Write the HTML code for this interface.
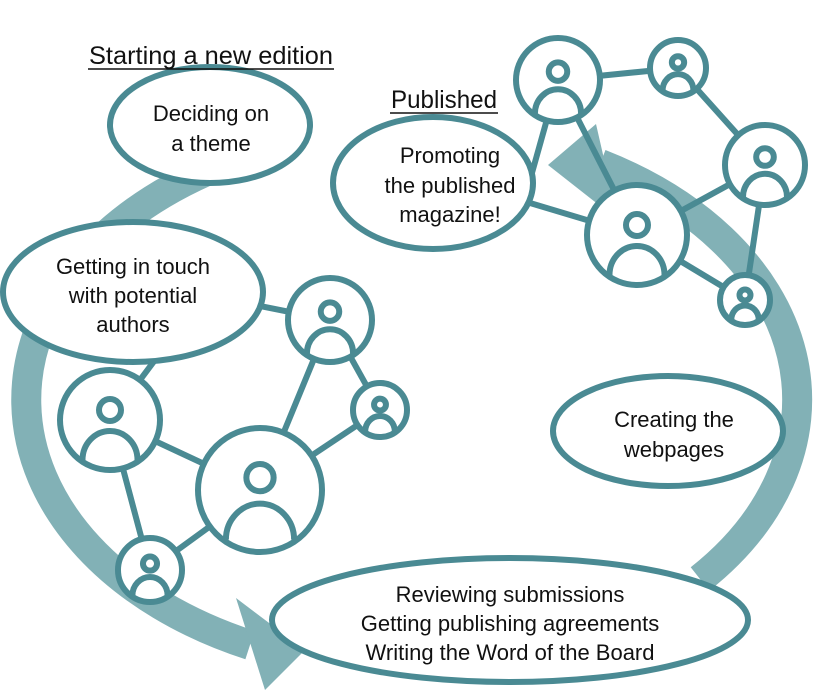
<!DOCTYPE html>
<html><head><meta charset="utf-8"><style>
html,body{margin:0;padding:0;background:#fff;}
svg{display:block;}
text{font-family:"Liberation Sans",sans-serif;fill:#111;}
</style></head><body>
<svg width="840" height="690" viewBox="0 0 840 690" xmlns="http://www.w3.org/2000/svg">
<defs>
<g id="p">
<circle cx="0" cy="0" r="1" fill="#fff" stroke="#4a8a93" stroke-width="6" vector-effect="non-scaling-stroke"/>
<circle cx="0" cy="-0.2" r="0.22" fill="none" stroke="#4a8a93" stroke-width="6" vector-effect="non-scaling-stroke"/>
<path d="M-0.55,0.8 A0.55,0.58 0 0 1 0.55,0.8" fill="none" stroke="#4a8a93" stroke-width="6" vector-effect="non-scaling-stroke"/>
</g>
</defs>
<!-- ring -->
<g fill="none" stroke="#82b1b6" stroke-width="30">
<path d="M240,158 A385,270 0 0 0 250,645"/>
<path d="M700,579 A385,270 0 0 0 600,164"/>
</g>
<polygon points="236,598 305,650 265,690" fill="#82b1b6"/>
<polygon points="596,124 618,220 548,165" fill="#82b1b6"/>
<!-- edges -->
<g stroke="#4a8a93" stroke-width="6">
<line x1="558" y1="80" x2="678" y2="68"/>
<line x1="678" y1="68" x2="765" y2="165"/>
<line x1="765" y1="165" x2="637" y2="235"/>
<line x1="765" y1="165" x2="745" y2="300"/>
<line x1="637" y1="235" x2="745" y2="300"/>
<line x1="558" y1="80" x2="637" y2="235"/>
<line x1="558" y1="80" x2="530" y2="180"/>
<line x1="520" y1="200" x2="637" y2="235"/>
<line x1="230" y1="300" x2="330" y2="320"/>
<line x1="170" y1="340" x2="110" y2="420"/>
<line x1="330" y1="320" x2="380" y2="410"/>
<line x1="330" y1="320" x2="260" y2="490"/>
<line x1="260" y1="490" x2="380" y2="410"/>
<line x1="110" y1="420" x2="260" y2="490"/>
<line x1="110" y1="420" x2="150" y2="570"/>
<line x1="260" y1="490" x2="150" y2="570"/>
</g>
<!-- ellipses -->
<g fill="#fff" stroke="#4a8a93" stroke-width="6">
<ellipse cx="210" cy="125" rx="100" ry="58"/>
<ellipse cx="433" cy="183" rx="100" ry="66"/>
<ellipse cx="133" cy="292" rx="130" ry="70"/>
<ellipse cx="668" cy="431" rx="115" ry="55"/>
<ellipse cx="510" cy="620" rx="238" ry="62"/>
</g>
<!-- nodes -->
<use href="#p" transform="translate(558,80) scale(42)"/>
<use href="#p" transform="translate(678,68) scale(28)"/>
<use href="#p" transform="translate(765,165) scale(40)"/>
<use href="#p" transform="translate(637,235) scale(50)"/>
<use href="#p" transform="translate(745,300) scale(25)"/>
<use href="#p" transform="translate(330,320) scale(42)"/>
<use href="#p" transform="translate(110,420) scale(50)"/>
<use href="#p" transform="translate(260,490) scale(62)"/>
<use href="#p" transform="translate(380,410) scale(27)"/>
<use href="#p" transform="translate(150,570) scale(32)"/>
<!-- text -->
<g font-size="22" text-anchor="middle">
<text x="211" y="64" font-size="25" textLength="244" lengthAdjust="spacingAndGlyphs">Starting a new edition</text>
<line x1="88" y1="69" x2="334" y2="69" stroke="#111" stroke-width="1.5"/>
<text x="444" y="108" font-size="25" textLength="106" lengthAdjust="spacingAndGlyphs">Published</text>
<line x1="390" y1="113" x2="498" y2="113" stroke="#111" stroke-width="1.5"/>
<text x="211" y="121">Deciding on</text>
<text x="211" y="151">a theme</text>
<text x="450" y="163">Promoting</text>
<text x="450" y="193">the published</text>
<text x="450" y="222">magazine!</text>
<text x="133" y="274">Getting in touch</text>
<text x="133" y="303">with potential</text>
<text x="133" y="332">authors</text>
<text x="674" y="427">Creating the</text>
<text x="674" y="457">webpages</text>
<text x="510" y="602">Reviewing submissions</text>
<text x="510" y="631">Getting publishing agreements</text>
<text x="510" y="660">Writing the Word of the Board</text>
</g>
</svg>
</body></html>
